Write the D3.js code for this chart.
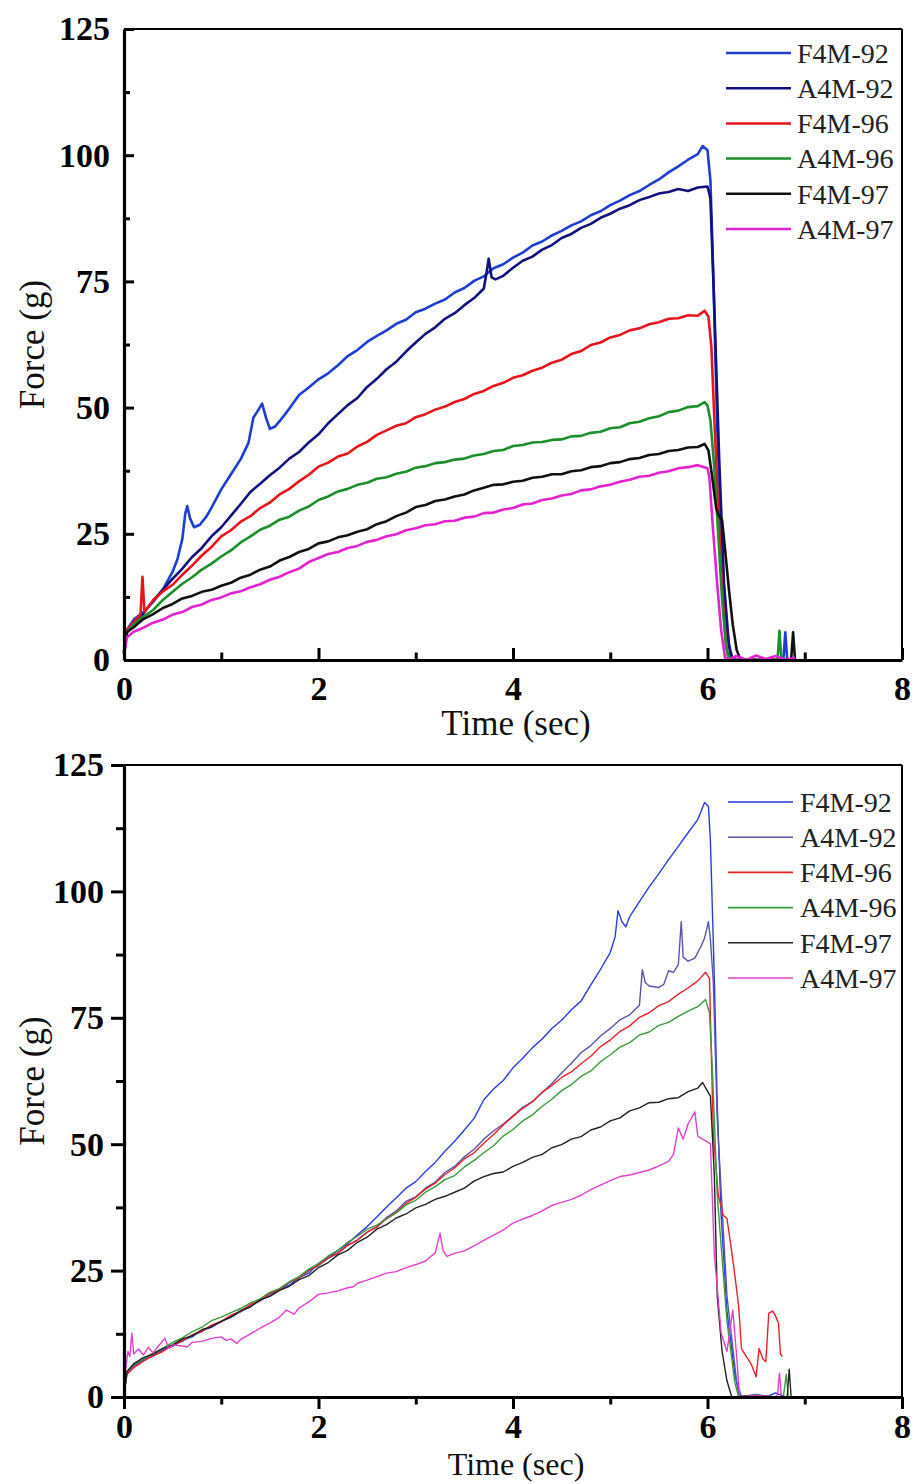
<!DOCTYPE html>
<html>
<head>
<meta charset="utf-8">
<script src="https://cdn.jsdelivr.net/npm/d3@7"></script>
<style>
  body { margin: 0; background: #fff; }
  svg { display: block; }
  text { font-family: "Liberation Serif", "Times New Roman", serif; }
</style>
</head>
<body>
<svg id="chart" width="914" height="1484"></svg>
<script>
const seriesNames = ["F4M-92", "A4M-92", "F4M-96", "A4M-96", "F4M-97", "A4M-97"];
const xTicks = [0, 2, 4, 6, 8];
const xMinor = [1, 3, 5, 7];
const yTicks = [0, 25, 50, 75, 100, 125];
const yMinor = [12.5, 37.5, 62.5, 87.5, 112.5];

// top panel, [time (sec), force (g)]
const topF4M92 = [[0,1.5],[0.03,6],[0.1,8],[0.2,9.5],[0.3,11.5],[0.4,14],[0.5,17.5],[0.55,20],[0.6,24],[0.63,29],[0.65,30.5],[0.68,28],[0.72,26.3],[0.78,26.8],[0.85,28.5],[0.9,30.2],[1.0,33.8],[1.1,36.8],[1.2,39.8],[1.28,43],[1.33,48],[1.38,49.5],[1.42,50.8],[1.46,48],[1.5,45.8],[1.55,46.2],[1.6,47.3],[1.7,49.8],[1.8,52.5],[1.9,54],[2.0,55.6],[2.1,56.8],[2.2,58.4],[2.3,60.2],[2.4,61.4],[2.5,63],[2.6,64.2],[2.7,65.3],[2.8,66.6],[2.9,67.4],[3.0,68.9],[3.1,69.6],[3.2,70.6],[3.3,71.4],[3.4,72.8],[3.5,73.7],[3.6,75.1],[3.7,76],[3.8,77.6],[3.9,78.4],[4.0,79.7],[4.1,80.7],[4.2,82.1],[4.3,82.9],[4.4,84.1],[4.5,85],[4.6,86.1],[4.7,86.9],[4.8,88.1],[4.9,88.9],[5.0,90.1],[5.1,91],[5.2,92.1],[5.3,92.9],[5.4,94.1],[5.5,95.2],[5.6,96.6],[5.7,97.8],[5.8,99.1],[5.9,100.2],[5.95,101.8],[6.0,101],[6.03,95],[6.06,76],[6.1,46],[6.15,20],[6.2,6],[6.24,0.5],[6.3,0],[6.5,0],[6.78,0],[6.8,5.5],[6.82,0],[6.9,0]];
const topA4M92 = [[0,1.5],[0.03,5.5],[0.1,7],[0.2,9.2],[0.3,11.8],[0.4,13.9],[0.5,16.1],[0.6,18.1],[0.7,20.4],[0.8,22.2],[0.9,24.5],[1.0,26.3],[1.1,28.6],[1.2,30.9],[1.3,33.3],[1.4,34.9],[1.5,36.6],[1.6,38.1],[1.7,39.9],[1.8,41.2],[1.9,43.1],[2.0,44.7],[2.1,46.9],[2.2,48.7],[2.3,50.5],[2.4,51.9],[2.5,54.1],[2.6,55.7],[2.7,57.6],[2.8,59.1],[2.9,61.1],[3.0,62.9],[3.1,64.6],[3.2,65.9],[3.3,67.6],[3.4,68.7],[3.5,70.3],[3.6,71.7],[3.7,73.6],[3.73,77],[3.75,79.5],[3.78,75.8],[3.82,75.4],[3.9,76.1],[4.0,77.7],[4.1,79.1],[4.2,79.9],[4.3,81.3],[4.4,82.2],[4.5,83.6],[4.6,84.4],[4.7,85.6],[4.8,86.4],[4.9,87.6],[5.0,88.4],[5.1,89.4],[5.2,90.1],[5.3,91.1],[5.4,91.7],[5.5,92.4],[5.6,92.7],[5.7,93.3],[5.8,92.9],[5.9,93.6],[6.0,93.8],[6.03,91.5],[6.07,70],[6.12,40],[6.17,15],[6.22,3],[6.26,0],[6.9,0]];
const topF4M96 = [[0,1.5],[0.03,6],[0.1,7.5],[0.17,9],[0.19,16.5],[0.21,9.5],[0.3,11.8],[0.4,13.6],[0.5,14.9],[0.6,16.9],[0.7,18.7],[0.8,20.7],[0.9,22.4],[1.0,24.5],[1.1,25.7],[1.2,27.4],[1.3,28.5],[1.4,30.1],[1.5,31.2],[1.6,32.8],[1.7,33.9],[1.8,35.4],[1.9,36.7],[2.0,38.3],[2.1,39.1],[2.2,40.3],[2.3,40.9],[2.4,42.3],[2.5,43.2],[2.6,44.6],[2.7,45.5],[2.8,46.4],[2.9,46.9],[3.0,48.1],[3.1,48.7],[3.2,49.6],[3.3,50.2],[3.4,51.1],[3.5,51.7],[3.6,52.7],[3.7,53.3],[3.8,54.3],[3.9,54.9],[4.0,55.9],[4.1,56.4],[4.2,57.3],[4.3,57.9],[4.4,58.9],[4.5,59.5],[4.6,60.6],[4.7,61.2],[4.8,62.4],[4.9,62.9],[5.0,63.9],[5.1,64.4],[5.2,65.3],[5.3,65.7],[5.4,66.5],[5.5,66.9],[5.6,67.6],[5.7,67.7],[5.8,68.3],[5.9,68.2],[5.97,69.2],[6.01,68],[6.04,62],[6.07,48],[6.11,30],[6.15,14],[6.19,3],[6.22,0],[6.9,0]];
const topA4M96 = [[0,1.5],[0.03,5.5],[0.1,7],[0.2,8.6],[0.3,9.9],[0.4,11.9],[0.5,13.5],[0.6,15.1],[0.7,16.4],[0.8,17.9],[0.9,19.1],[1.0,20.5],[1.1,21.7],[1.2,23.3],[1.3,24.5],[1.4,25.8],[1.5,26.6],[1.6,27.8],[1.7,28.4],[1.8,29.6],[1.9,30.4],[2.0,31.7],[2.1,32.4],[2.2,33.4],[2.3,33.9],[2.4,34.7],[2.5,35.1],[2.6,35.9],[2.7,36.2],[2.8,36.9],[2.9,37.3],[3.0,38.1],[3.1,38.4],[3.2,39],[3.3,39.2],[3.4,39.7],[3.5,39.9],[3.6,40.5],[3.7,40.8],[3.8,41.4],[3.9,41.6],[4.0,42.4],[4.1,42.6],[4.2,43.1],[4.3,43.2],[4.4,43.6],[4.5,43.7],[4.6,44.3],[4.7,44.4],[4.8,45],[4.9,45.2],[5.0,45.9],[5.1,46.1],[5.2,46.9],[5.3,47.2],[5.4,47.9],[5.5,48.3],[5.6,49.1],[5.7,49.4],[5.8,50.1],[5.9,50.3],[5.97,51.1],[6.0,50.4],[6.03,47.5],[6.07,38],[6.11,25],[6.15,12],[6.19,3],[6.22,0],[6.72,0],[6.74,5.8],[6.76,0],[6.9,0]];
const topF4M97 = [[0,1.5],[0.03,5.5],[0.1,6.5],[0.2,8.1],[0.3,9.1],[0.4,10.3],[0.5,11.1],[0.6,12.2],[0.7,12.7],[0.8,13.5],[0.9,13.9],[1.0,14.7],[1.1,15.3],[1.2,16.3],[1.3,16.9],[1.4,17.9],[1.5,18.5],[1.6,19.7],[1.7,20.4],[1.8,21.4],[1.9,22],[2.0,23.1],[2.1,23.5],[2.2,24.3],[2.3,24.7],[2.4,25.4],[2.5,25.9],[2.6,26.9],[2.7,27.5],[2.8,28.5],[2.9,29.2],[3.0,30.3],[3.1,30.7],[3.2,31.5],[3.3,31.8],[3.4,32.4],[3.5,32.8],[3.6,33.6],[3.7,34.1],[3.8,34.7],[3.9,34.8],[4.0,35.3],[4.1,35.5],[4.2,36.1],[4.3,36.3],[4.4,36.8],[4.5,36.8],[4.6,37.4],[4.7,37.6],[4.8,38.2],[4.9,38.4],[5.0,39],[5.1,39.2],[5.2,39.8],[5.3,40],[5.4,40.6],[5.5,40.8],[5.6,41.4],[5.7,41.6],[5.8,42.1],[5.9,42.2],[5.97,42.8],[6.01,41.5],[6.05,36],[6.09,30],[6.12,28.5],[6.15,27.7],[6.18,22],[6.22,14],[6.26,7],[6.3,2],[6.34,0],[6.86,0],[6.88,5.5],[6.9,0]];
const topA4M97 = [[0,1],[0.03,4.5],[0.1,5.6],[0.2,6.4],[0.3,7.4],[0.4,8],[0.5,9],[0.6,9.5],[0.7,10.5],[0.8,11],[0.9,11.9],[1.0,12.4],[1.1,13.2],[1.2,13.6],[1.3,14.4],[1.4,15],[1.5,15.9],[1.6,16.5],[1.7,17.4],[1.8,18.1],[1.9,19.4],[2.0,20.2],[2.1,21],[2.2,21.4],[2.3,22.2],[2.4,22.6],[2.5,23.4],[2.6,23.8],[2.7,24.5],[2.8,24.9],[2.9,25.7],[3.0,26.1],[3.1,26.7],[3.2,26.9],[3.3,27.5],[3.4,27.6],[3.5,28.2],[3.6,28.4],[3.7,29.1],[3.8,29.2],[3.9,29.8],[4.0,30.1],[4.1,30.8],[4.2,31],[4.3,31.7],[4.4,32],[4.5,32.6],[4.6,32.9],[4.7,33.6],[4.8,33.8],[4.9,34.4],[5.0,34.7],[5.1,35.3],[5.2,35.7],[5.3,36.3],[5.4,36.5],[5.5,37.1],[5.6,37.4],[5.7,38],[5.8,38.2],[5.9,38.6],[6.0,38],[6.02,36],[6.06,25],[6.1,15],[6.14,6],[6.18,0.5],[6.2,0],[6.3,0.8],[6.4,0],[6.5,0.9],[6.6,0.2],[6.7,0.8],[6.8,0],[6.9,0.5]];

// bottom panel
const botF4M92 = [[0,0.5],[0.03,5],[0.1,6.3],[0.2,7.4],[0.3,8.1],[0.4,9.3],[0.5,10],[0.6,11.2],[0.7,11.9],[0.8,13.2],[0.9,13.8],[1.0,14.9],[1.1,15.8],[1.2,16.9],[1.3,17.9],[1.4,19.2],[1.5,20],[1.6,21.3],[1.7,22.1],[1.8,23.6],[1.9,24.5],[2.0,26.4],[2.1,27.6],[2.2,29],[2.3,30.3],[2.4,32.1],[2.5,33.7],[2.6,35.6],[2.7,37.6],[2.8,39.4],[2.9,41.3],[3.0,42.6],[3.1,44.6],[3.2,46.4],[3.3,48.6],[3.4,50.6],[3.5,52.8],[3.6,55.1],[3.7,58.8],[3.8,60.9],[3.9,62.6],[4.0,65.1],[4.1,67],[4.2,69.1],[4.3,70.8],[4.4,72.9],[4.5,74.5],[4.6,76.6],[4.7,78.3],[4.8,81.5],[4.9,84.6],[5.0,87.9],[5.05,91],[5.08,96.2],[5.12,94],[5.16,93],[5.2,95],[5.3,98],[5.4,100.9],[5.5,103.5],[5.6,106.3],[5.7,108.9],[5.8,111.6],[5.9,114.2],[5.97,117.6],[6.01,116.8],[6.03,110],[6.07,83],[6.1,58],[6.14,36],[6.2,17],[6.28,4.7],[6.33,0],[6.5,0.5],[6.6,0],[6.7,0.8],[6.8,0],[6.85,0]];
const botA4M92 = [[0,0.5],[0.03,4.5],[0.1,6.1],[0.2,7.2],[0.3,8.3],[0.4,9.1],[0.5,10.2],[0.6,11],[0.7,12.2],[0.8,12.9],[0.9,14.1],[1.0,14.9],[1.1,16.1],[1.2,16.9],[1.3,18.2],[1.4,19],[1.5,20.4],[1.6,21.2],[1.7,22.6],[1.8,23.5],[1.9,25],[2.0,26],[2.1,27.4],[2.2,28.4],[2.3,30],[2.4,31.1],[2.5,32.6],[2.6,33.7],[2.7,35.5],[2.8,36.8],[2.9,38.7],[3.0,39.6],[3.1,41.3],[3.2,42.5],[3.3,44.4],[3.4,45.6],[3.5,47.5],[3.6,49],[3.7,51],[3.8,52.6],[3.9,54],[4.0,55.6],[4.1,57.3],[4.2,58.4],[4.3,60.2],[4.4,62],[4.5,64.1],[4.6,66],[4.7,68.1],[4.8,69.5],[4.9,71.4],[5.0,72.9],[5.1,74.6],[5.2,75.6],[5.3,77.5],[5.33,84.5],[5.36,82],[5.4,81.3],[5.5,81],[5.55,81.6],[5.6,84.3],[5.65,84],[5.7,85.5],[5.73,94],[5.75,87],[5.8,86.2],[5.87,86.8],[5.93,89],[5.97,90.8],[6.01,94],[6.03,90.5],[6.06,82],[6.1,55],[6.2,20],[6.3,3],[6.35,0],[6.5,0.4],[6.7,0],[6.85,0]];
const botF4M96 = [[0,0.5],[0.03,4.5],[0.1,5.8],[0.2,7.1],[0.3,8.2],[0.4,9],[0.5,10.3],[0.6,11.1],[0.7,12.3],[0.8,13],[0.9,14.2],[1.0,14.9],[1.1,16.2],[1.2,17],[1.3,18.3],[1.4,19.1],[1.5,20.5],[1.6,21.3],[1.7,22.7],[1.8,23.6],[1.9,25.1],[2.0,26.1],[2.1,27.6],[2.2,28.5],[2.3,30],[2.4,31],[2.5,32.6],[2.6,33.6],[2.7,35.3],[2.8,36.5],[2.9,38.3],[3.0,39.5],[3.1,41.1],[3.2,42.3],[3.3,44],[3.4,45.3],[3.5,47.1],[3.6,48.3],[3.7,50.2],[3.8,51.9],[3.9,53.8],[4.0,55.5],[4.1,57.1],[4.2,58.4],[4.3,60.3],[4.4,61.6],[4.5,63.2],[4.6,64.3],[4.7,65.9],[4.8,67.4],[4.9,69.3],[5.0,70.6],[5.1,72.3],[5.2,73.4],[5.3,75.1],[5.4,76],[5.5,77.4],[5.6,78.2],[5.7,79.7],[5.8,80.9],[5.9,82.3],[5.98,84],[6.02,82.8],[6.06,52],[6.11,40],[6.16,36],[6.2,35.3],[6.24,30],[6.28,24.3],[6.32,18],[6.35,9.5],[6.4,8],[6.45,6.5],[6.5,4],[6.53,9.6],[6.57,7.5],[6.6,7],[6.63,16.6],[6.67,17],[6.7,16],[6.73,14.6],[6.75,8.5],[6.77,8]];
const botA4M96 = [[0,0.5],[0.03,5],[0.1,6.5],[0.2,7.5],[0.3,8.7],[0.4,9.6],[0.5,10.8],[0.6,11.7],[0.7,12.9],[0.8,13.8],[0.9,15.1],[1.0,15.8],[1.1,16.7],[1.2,17.5],[1.3,18.6],[1.4,19.4],[1.5,20.7],[1.6,21.5],[1.7,22.8],[1.8,23.8],[1.9,25.3],[2.0,26.4],[2.1,27.9],[2.2,29],[2.3,30.6],[2.4,31.8],[2.5,33.2],[2.6,34],[2.7,35.2],[2.8,36.4],[2.9,38],[3.0,38.9],[3.1,40.5],[3.2,41.6],[3.3,43],[3.4,43.8],[3.5,45.5],[3.6,46.8],[3.7,48.3],[3.8,49.7],[3.9,51.6],[4.0,52.9],[4.1,54.6],[4.2,55.8],[4.3,57.5],[4.4,58.9],[4.5,60.6],[4.6,61.8],[4.7,63.4],[4.8,64.5],[4.9,66.3],[5.0,67.7],[5.1,69.2],[5.2,70.1],[5.3,71.6],[5.4,72.2],[5.5,73.5],[5.6,74.1],[5.7,75.3],[5.8,76.3],[5.9,77.2],[5.98,78.6],[6.02,76],[6.05,65],[6.1,40],[6.2,15],[6.28,3],[6.32,0],[6.5,0.4],[6.7,0],[6.78,0],[6.81,4.5],[6.83,0]];
const botF4M97 = [[0,0.5],[0.03,5],[0.1,6.6],[0.2,7.8],[0.3,8.5],[0.4,9.6],[0.5,10.3],[0.6,11.5],[0.7,12.1],[0.8,13.3],[0.9,13.9],[1.0,15],[1.1,15.8],[1.2,17.1],[1.3,17.8],[1.4,19.2],[1.5,19.9],[1.6,21.1],[1.7,21.9],[1.8,23.2],[1.9,24],[2.0,25.6],[2.1,26.6],[2.2,28.1],[2.3,29],[2.4,30.6],[2.5,31.6],[2.6,33.2],[2.7,34.1],[2.8,35.4],[2.9,36.2],[3.0,37.4],[3.1,38.1],[3.2,39.1],[3.3,39.7],[3.4,40.5],[3.5,41.3],[3.6,42.7],[3.7,43.6],[3.8,44.2],[3.9,44.5],[4.0,45.6],[4.1,46.4],[4.2,47.4],[4.3,48],[4.4,49.3],[4.5,49.9],[4.6,51],[4.7,51.5],[4.8,52.8],[4.9,53.4],[5.0,54.6],[5.1,55.2],[5.2,56.6],[5.3,57.2],[5.4,58.2],[5.5,58.3],[5.6,59],[5.7,59.2],[5.8,60.4],[5.9,61.1],[5.95,62.2],[6.0,60.5],[6.03,59.5],[6.07,44],[6.1,20],[6.15,9],[6.2,3.2],[6.25,0],[6.5,0.3],[6.7,0],[6.82,0],[6.84,5.5],[6.86,0]];
const botA4M97 = [[0,1],[0.02,6],[0.04,9],[0.06,8],[0.08,12.6],[0.1,8.5],[0.15,9.5],[0.2,8.3],[0.25,9.8],[0.3,8.7],[0.35,10],[0.42,11.6],[0.46,9.6],[0.5,10.3],[0.6,10.1],[0.65,9.9],[0.7,10.8],[0.8,11],[0.9,11.6],[1.0,11.9],[1.05,11.2],[1.1,11.5],[1.16,10.6],[1.2,11.4],[1.3,12.5],[1.4,13.6],[1.5,14.6],[1.6,15.8],[1.67,17.2],[1.75,16.4],[1.8,17.6],[1.9,18.8],[2.0,20.3],[2.1,20.6],[2.2,21],[2.3,21.6],[2.36,21.8],[2.4,22.5],[2.5,23.1],[2.6,23.8],[2.7,24.5],[2.8,24.8],[2.9,25.6],[3.0,26.2],[3.1,26.9],[3.2,28.5],[3.25,32.4],[3.28,29],[3.32,27.8],[3.4,28.4],[3.5,28.9],[3.6,29.9],[3.7,31],[3.8,32],[3.9,33],[4.0,34.4],[4.1,35.2],[4.2,35.9],[4.3,36.8],[4.4,37.9],[4.5,38.5],[4.6,39.1],[4.7,39.9],[4.8,41],[4.9,41.9],[5.0,42.8],[5.1,43.6],[5.2,43.9],[5.3,44.4],[5.4,44.9],[5.5,45.7],[5.6,46.6],[5.65,48],[5.7,53.2],[5.75,51],[5.8,54],[5.87,56.4],[5.9,51.6],[5.95,51],[6.03,50.1],[6.07,28.3],[6.14,12.7],[6.2,9],[6.26,17.2],[6.3,8],[6.33,0],[6.5,0.3],[6.7,0],[6.72,0.5],[6.74,4.7],[6.76,0],[6.85,0]];

const topColors = ["#1f3dd2", "#12127e", "#e8141c", "#1c8f2c", "#111111", "#e223cf"];
const botColors = ["#2a3ddc", "#5a55a8", "#e82228", "#3c9a3c", "#222222", "#e23fcc"];

const svg = d3.select("#chart");

function panel(opt) {
  const x = d3.scaleLinear().domain([0, 8]).range([124, opt.right]);
  const y = d3.scaleLinear().domain([0, 125]).range([opt.bottom, opt.top]);
  const g = svg.append("g");
  const sign = opt.inward ? -1 : 1;

  // frame top/right
  g.append("line").attr("x1", x(0)).attr("x2", x(8)).attr("y1", y(125)).attr("y2", y(125))
    .attr("stroke", "#000").attr("stroke-width", 2);
  g.append("line").attr("x1", x(8)).attr("x2", x(8)).attr("y1", y(125)).attr("y2", y(0))
    .attr("stroke", "#000").attr("stroke-width", 2);

  const line = d3.line().x(d => x(d[0])).y(d => y(d[1]));
  opt.series.forEach((s, i) => {
    g.append("path").datum(s).attr("d", line).attr("fill", "none")
      .attr("stroke", opt.colors[i]).attr("stroke-width", opt.lw).attr("stroke-linejoin", "round");
  });

  const xa = g.append("g").attr("transform", `translate(0,${y(0)})`)
    .call(d3.axisBottom(x).tickValues(xTicks).tickSize(sign * 12).tickSizeOuter(0).tickPadding(opt.xPad).tickFormat(d3.format("d")));
  g.append("g").attr("transform", `translate(0,${y(0)})`)
    .call(d3.axisBottom(x).tickValues(xMinor).tickSize(sign * 7.5).tickFormat(""))
    .select(".domain").remove();
  const ya = g.append("g").attr("transform", `translate(${x(0)},0)`)
    .call(d3.axisLeft(y).tickValues(yTicks).tickSize(sign * opt.ySize).tickSizeOuter(0).tickPadding(opt.inward ? 14 : 7).tickFormat(d3.format("d")));
  g.append("g").attr("transform", `translate(${x(0)},0)`)
    .call(d3.axisLeft(y).tickValues(yMinor).tickSize(sign * opt.yMinorSize).tickFormat(""))
    .select(".domain").remove();

  g.selectAll(".domain").attr("stroke-width", 3.2);
  g.selectAll(".tick line").attr("stroke-width", 3);
  [xa, ya].forEach(a => a.selectAll("text")
    .attr("font-family", "Liberation Serif, serif").attr("font-weight", "bold")
    .attr("font-size", 34).attr("fill", "#000"));

  g.append("text").attr("x", 516).attr("y", opt.xTitleY).attr("text-anchor", "middle")
    .attr("font-size", opt.xTitleSize).attr("fill", "#111").text("Time (sec)");
  g.append("text").attr("transform", `translate(44,${(opt.top + opt.bottom) / 2}) rotate(-90)`)
    .attr("text-anchor", "middle").attr("font-size", 35).attr("fill", "#111").text("Force (g)");

  const lg = g.append("g");
  seriesNames.forEach((n, i) => {
    const yy = opt.legY + i * opt.legStep;
    lg.append("line").attr("x1", opt.legX).attr("x2", opt.legX + 65).attr("y1", yy).attr("y2", yy)
      .attr("stroke", opt.colors[i]).attr("stroke-width", opt.legLw);
    lg.append("text").attr("x", opt.legX + opt.legGap).attr("y", yy).attr("dy", "0.35em")
      .attr("font-size", 28).attr("fill", "#222").text(n);
  });
}

panel({
  top: 29, bottom: 660, right: 902, inward: true, ySize: 10, yMinorSize: 6,
  series: [topF4M92, topA4M92, topF4M96, topA4M96, topF4M97, topA4M97],
  colors: topColors, lw: 2.6, xPad: 16, xTitleY: 735, xTitleSize: 35,
  legX: 726, legY: 53, legStep: 35.2, legGap: 71, legLw: 2.5
});

panel({
  top: 765, bottom: 1397, right: 902, inward: false, ySize: 13, yMinorSize: 8,
  series: [botF4M92, botA4M92, botF4M96, botA4M96, botF4M97, botA4M97],
  colors: botColors, lw: 1.4, xPad: 5, xTitleY: 1475, xTitleSize: 32,
  legX: 728, legY: 802, legStep: 35.2, legGap: 72, legLw: 1.6
});
</script>
</body>
</html>
